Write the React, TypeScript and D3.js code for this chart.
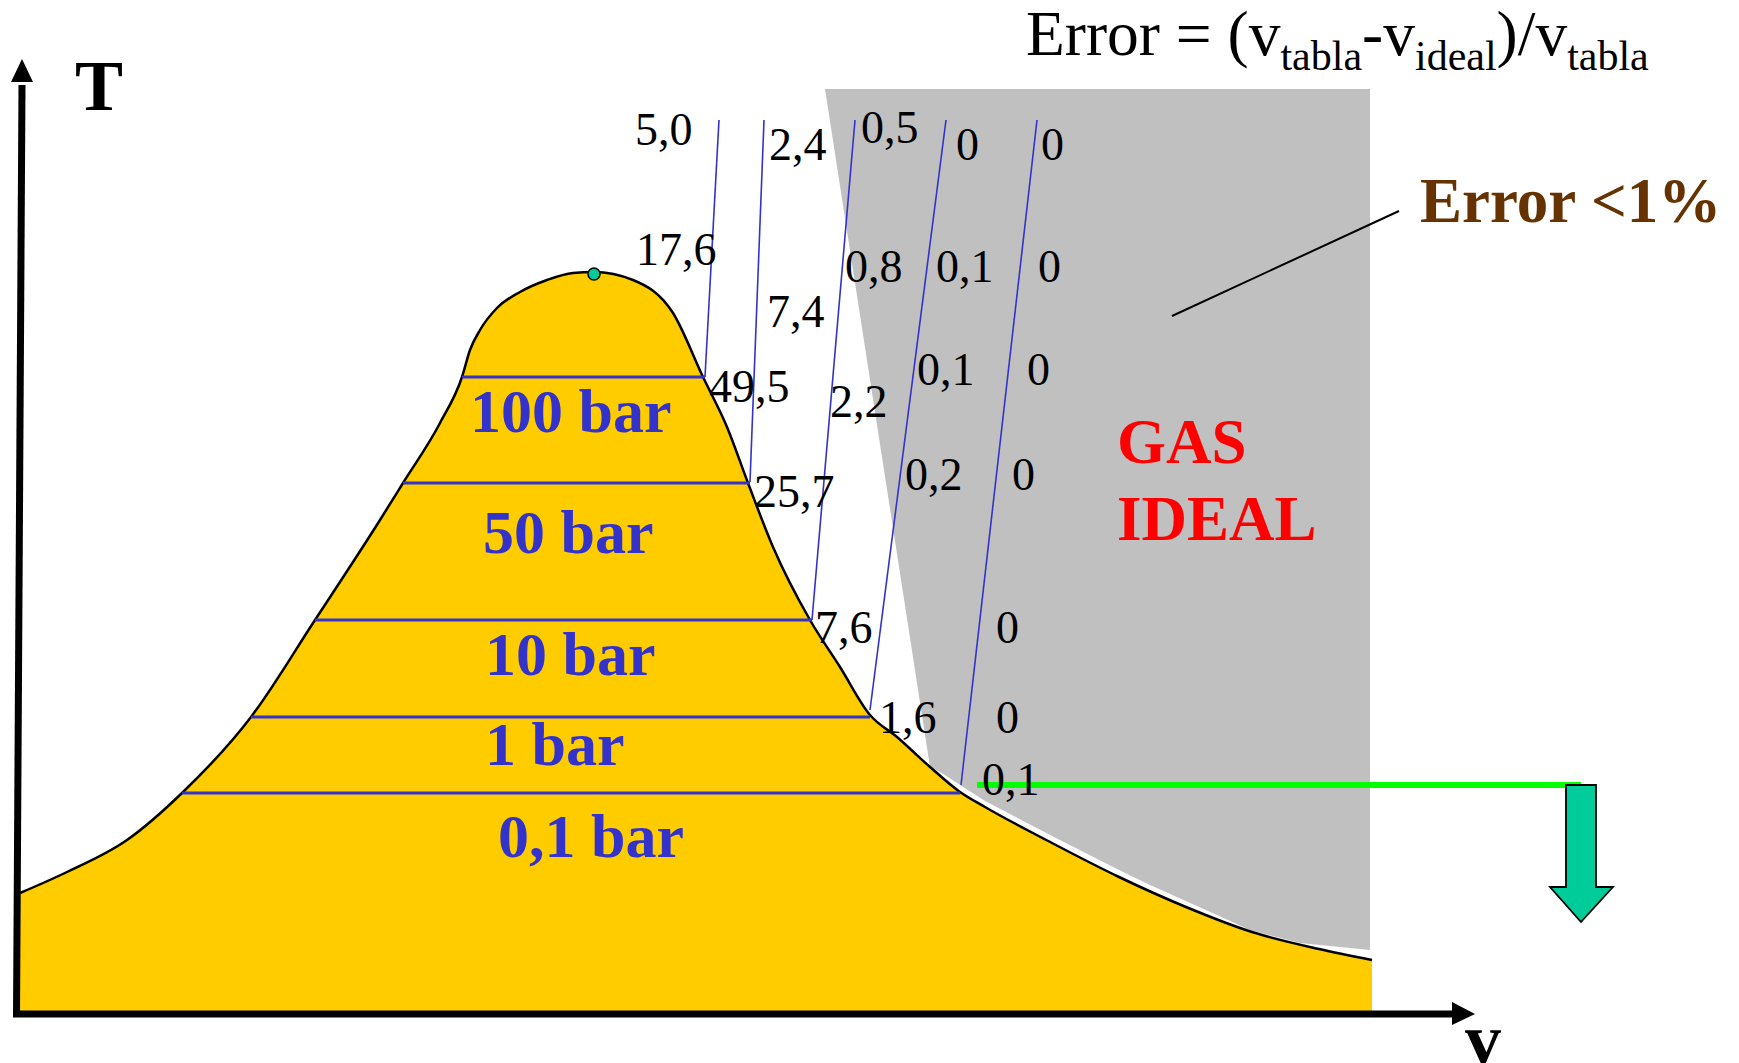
import React from "react";
import * as d3 from "d3";

// Saturation dome (specific volume v vs temperature T), in diagram units
const domeV = [0, 4.7, 10.7, 16.2, 23.1, 29.5, 36.0, 38.3, 42.0, 44.2, 45.0, 46.0, 47.7, 50.0, 52.7, 55.3, 57.4, 61.3, 65.3, 68.3, 70.7, 72.8, 75.3, 79.0, 82.0, 85.0, 87.7, 91.0, 94.0, 96.5, 103.2, 109.9, 116.6, 123.2, 129.9, 135.2];
const domeT = [12.2, 14.3, 17.5, 22.2, 29.8, 39.5, 49.5, 53.2, 59.2, 63.8, 66.5, 68.5, 70.7, 72.3, 73.5, 74.2, 74.3, 73.5, 70.2, 63.8, 58.8, 53.2, 46.8, 39.5, 34.8, 30.0, 27.8, 24.8, 22.3, 20.8, 17.2, 13.8, 10.8, 8.3, 6.6, 5.5];
const criticalPoint = { v: 57.4, T: 74.1 };

// Isobars across the two-phase region
const pressures = ["100 bar", "50 bar", "10 bar", "1 bar", "0,1 bar"];
const isobarT = [63.8, 53.2, 39.5, 29.8, 22.2];
const isobarVLeft = [44.2, 38.3, 29.5, 23.1, 16.2];
const isobarVRight = [68.5, 73.0, 79.2, 85.0, 94.0];
const pressureLabelV = [45.0, 46.3, 46.5, 46.5, 47.8];
const pressureLabelT = [58.3, 46.2, 34.0, 25.0, 15.8];

// Lines along which the error was tabulated
const errLineV0 = [68.5, 73.0, 79.2, 85.0, 94.1];
const errLineT0 = [63.8, 53.3, 39.5, 30.5, 23.0];
const errLineV1 = [69.9, 74.4, 83.5, 92.6, 101.7];
const errLineT1 = [89.5, 89.5, 89.5, 89.5, 89.5];

// Error values (%)
const errText = ["5,0", "17,6", "49,5", "2,4", "7,4", "25,7", "0,5", "0,8", "2,2", "7,6", "0", "0,1", "0,1", "0,2", "1,6", "0", "0", "0", "0", "0", "0", "0,1"];
const errV = [61.5, 61.6, 68.9, 74.9, 74.7, 73.4, 84.1, 82.5, 81.0, 79.5, 93.6, 91.6, 89.7, 88.5, 85.9, 102.1, 101.8, 100.7, 99.2, 97.6, 97.6, 96.2];
const errT = [87.0, 75.0, 61.3, 85.5, 68.8, 50.8, 87.2, 73.3, 59.8, 37.2, 85.5, 73.3, 63.0, 52.5, 28.2, 85.5, 73.3, 63.0, 52.5, 37.2, 28.2, 22.0];

// Ideal-gas zone (error < 1%)
const gasV = [80.5, 135.0, 135.0, 128.0, 123.0, 119.7, 113.0, 109.9, 103.2, 96.5, 92.0, 91.0];
const gasT = [92.6, 92.6, 6.5, 7.2, 8.5, 10.0, 13.0, 14.5, 17.9, 21.4, 24.3, 24.8];

// Isobar of 0,1 bar continued into the gas region, with its arrow
const lowIsobar = { v0: 95.7, v1: 156.1, T: 23.0 };
const arrowShaft = { v0: 154.6, v1: 157.6, top: 23.0, bottom: 12.8 };
const arrowHead = { v0: 153.0, v1: 159.3, tipV: 156.1, tipT: 9.3 };

const leader = { v0: 137.9, T0: 80.4, v1: 115.2, T1: 69.9 };

const W = 1739;
const H = 1063;
const serif = "'Liberation Serif', 'Times New Roman', Times, serif";
const BLUE = "#3333CC";

export default function App() {
  const x = d3.scaleLinear().domain([0, 145.5]).range([20, 1475]);
  const y = d3.scaleLinear().domain([0, 95.4]).range([1015, 61]);

  const domePts: [number, number][] = domeV.map((v, i) => [v, domeT[i]]);
  const domeLine = d3
    .line<[number, number]>()
    .x((d) => x(d[0]))
    .y((d) => y(d[1]))
    .curve(d3.curveMonotoneX);
  const domePath = domeLine(domePts) as string;
  const lastV = domeV[domeV.length - 1];
  const fillPath = `${domePath}L${x(lastV)},${y(0)}L${x(0)},${y(0)}Z`;

  const gasPath =
    d3
      .line<number>()
      .x((_, i) => x(gasV[i]))
      .y((_, i) => y(gasT[i]))(gasV.map((_, i) => i)) + "Z";

  const arrowPts = [
    [arrowShaft.v0, arrowShaft.top],
    [arrowShaft.v1, arrowShaft.top],
    [arrowShaft.v1, arrowShaft.bottom],
    [arrowHead.v1, arrowShaft.bottom],
    [arrowHead.tipV, arrowHead.tipT],
    [arrowHead.v0, arrowShaft.bottom],
    [arrowShaft.v0, arrowShaft.bottom],
  ]
    .map((p) => `${x(p[0])},${y(p[1])}`)
    .join(" ");

  const axisY = y(0) - 1;
  const axisX = x(0) - 1;

  return (
    <svg
      width={W}
      height={H}
      style={{ position: "absolute", left: 0, top: 0, background: "#fff" }}
    >
      {/* ideal gas zone */}
      <path d={gasPath} fill="#C0C0C0" />

      {/* two-phase region */}
      <path d={fillPath} fill="#FFCC00" />
      <path d={domePath} fill="none" stroke="#000" strokeWidth={2.5} />

      {/* isobars */}
      {pressures.map((p, i) => (
        <line
          key={"iso" + p}
          x1={x(isobarVLeft[i])}
          x2={x(isobarVRight[i])}
          y1={y(isobarT[i])}
          y2={y(isobarT[i])}
          stroke={BLUE}
          strokeWidth={3}
        />
      ))}
      {pressures.map((p, i) => (
        <text
          key={"pl" + p}
          x={x(pressureLabelV[i])}
          y={y(pressureLabelT[i])}
          fill={BLUE}
          fontFamily={serif}
          fontWeight="bold"
          fontSize={62}
        >
          {p}
        </text>
      ))}

      {/* error lines */}
      {errLineV0.map((v, i) => (
        <line
          key={"el" + i}
          x1={x(v)}
          y1={y(errLineT0[i])}
          x2={x(errLineV1[i])}
          y2={y(errLineT1[i])}
          stroke={BLUE}
          strokeWidth={1.6}
        />
      ))}

      {/* critical point */}
      <circle
        cx={x(criticalPoint.v)}
        cy={y(criticalPoint.T)}
        r={6}
        fill="#00CC99"
        stroke="#000"
        strokeWidth={1.5}
      />

      {/* low pressure isobar and arrow */}
      <line
        x1={x(lowIsobar.v0)}
        x2={x(lowIsobar.v1)}
        y1={y(lowIsobar.T)}
        y2={y(lowIsobar.T)}
        stroke="#00FF00"
        strokeWidth={6}
      />
      <polygon points={arrowPts} fill="#00CC99" stroke="#000" strokeWidth={1.8} />

      {/* error values */}
      {errText.map((t, i) => (
        <text
          key={"ev" + i}
          x={x(errV[i])}
          y={y(errT[i])}
          fontFamily={serif}
          fontSize={46}
          fill="#000"
        >
          {t}
        </text>
      ))}

      {/* leader line and note */}
      <line
        x1={x(leader.v0)}
        y1={y(leader.T0)}
        x2={x(leader.v1)}
        y2={y(leader.T1)}
        stroke="#000"
        strokeWidth={2}
      />
      <text
        x={x(140.0)}
        y={y(79.3)}
        fontFamily={serif}
        fontWeight="bold"
        fontSize={63}
        fill="#663300"
      >
        Error &lt;1%
      </text>

      <text x={x(109.7)} y={y(55.2)} fontFamily={serif} fontWeight="bold" fontSize={63} fill="#FF0000">
        GAS
      </text>
      <text x={x(109.7)} y={y(47.5)} fontFamily={serif} fontWeight="bold" fontSize={63} fill="#FF0000">
        IDEAL
      </text>

      {/* title */}
      <text x={1026} y={55} fontFamily={serif} fontSize={63.5} fill="#000">
        Error = (v
        <tspan fontSize={42} dy={15}>tabla</tspan>
        <tspan dy={-15}>-v</tspan>
        <tspan fontSize={42} dy={15}>ideal</tspan>
        <tspan dy={-15}>)/v</tspan>
        <tspan fontSize={42} dy={15}>tabla</tspan>
      </text>

      {/* axes */}
      <line x1={axisX + 3} y1={y(93)} x2={axisX - 2.5} y2={axisY + 3} stroke="#000" strokeWidth={7} />
      <polygon
        points={`${axisX + 3},${y(95.4) - 2} ${axisX - 8},${y(93.3)} ${axisX + 14},${y(93.3)}`}
        fill="#000"
      />
      <line x1={axisX - 6} y1={axisY} x2={x(143.3)} y2={axisY} stroke="#000" strokeWidth={7} />
      <polygon
        points={`${x(143.2)},${axisY - 12} ${x(145.5)},${axisY} ${x(143.2)},${axisY + 11}`}
        fill="#000"
      />
      <text x={75} y={110} fontFamily={serif} fontWeight="bold" fontSize={72} fill="#000">
        T
      </text>
      <text x={1465} y={1063} fontFamily={serif} fontWeight="bold" fontSize={72} fill="#000">
        v
      </text>
    </svg>
  );
}
